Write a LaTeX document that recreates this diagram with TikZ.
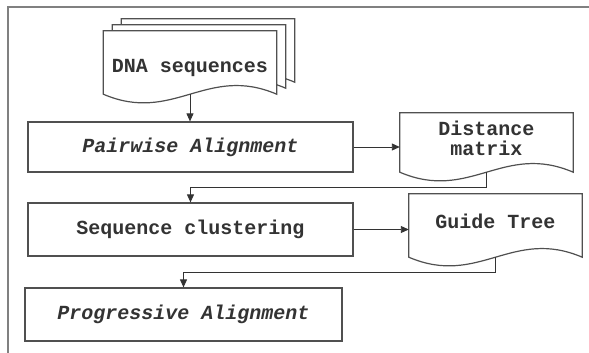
\documentclass[tikz,border=0pt]{standalone}
\usepackage{fontspec}
\usepackage{tikz}
\usetikzlibrary{arrows.meta,backgrounds}
\newfontfamily\flowfont{Liberation Mono}
\definecolor{linegray}{HTML}{505050}
\definecolor{framegray}{HTML}{808080}
\definecolor{textgray}{HTML}{333333}

\newcommand{\docshape}[2]{%
        \begin{pgfonlayer}{background}
        \filldraw[fill=white, draw=linegray, line width=1.2pt]
                (#1.north west) -- (#1.north east) -- ([yshift=#2]#1.south east)
                .. controls +(-70,-30) and +(70,30) .. ([yshift=#2]#1.south west) -- cycle;
        \coordinate (#1w) at ([yshift=#2]#1.south);
        \end{pgfonlayer}}

\begin{document}
\begin{tikzpicture}[x=1pt, y=-1pt,
        txt/.style={text=textgray, font=\flowfont\bfseries\fontsize{20}{20}\selectfont},
        box/.style={txt, draw=linegray, line width=1.2pt, inner sep=0pt},
        doc/.style={txt, minimum width=173pt, inner sep=0pt, align=center},
        flow/.style={draw=black!80, line width=0.9pt, -{Triangle[length=8pt,width=7pt]}}]
        \useasboundingbox (0,0) rectangle (589,353);
        \draw[framegray, line width=2pt] (589,7) -- (8,7) -- (8,353);

        \node[doc, minimum height=74pt] (DNA2) at (208,56) {};
        \node[doc, minimum height=74pt] (DNA1) at (199,62) {};
        \node[doc, minimum height=74pt] (DNA) at (190,68) {DNA sequences};
        \node[box, minimum width=325pt, minimum height=50pt] (PA) at (190.5,147) {\itshape Pairwise Alignment};
        \node[doc, minimum height=50pt] (DM) at (486.5,138) {Distance\\matrix};
        \node[box, minimum width=325pt, minimum height=53pt] (SC) at (190.5,229.5) {Sequence clustering};
        \node[doc, minimum height=54pt] (GT) at (495.5,221) {Guide Tree};
        \node[box, minimum width=317pt, minimum height=53pt] (PR) at (183.5,314.5) {\itshape Progressive Alignment};

        \docshape{DNA2}{11pt}
        \docshape{DNA1}{11pt}
        \docshape{DNA}{11pt}
        \docshape{DM}{-9pt}
        \docshape{GT}{-9pt}

        \draw[flow] (DNAw) -- (DNAw |- PA.north);
        \draw[flow] (PA.east) -- (PA.east -| DM.west);
        \draw[flow] (DMw) -- ++(0,15) -| (SC.north);
        \draw[flow] (SC.east) -- (SC.east -| GT.west);
        \draw[flow] (GTw) -- ++(0,15) -| (PR.north);
\end{tikzpicture}
\end{document}
